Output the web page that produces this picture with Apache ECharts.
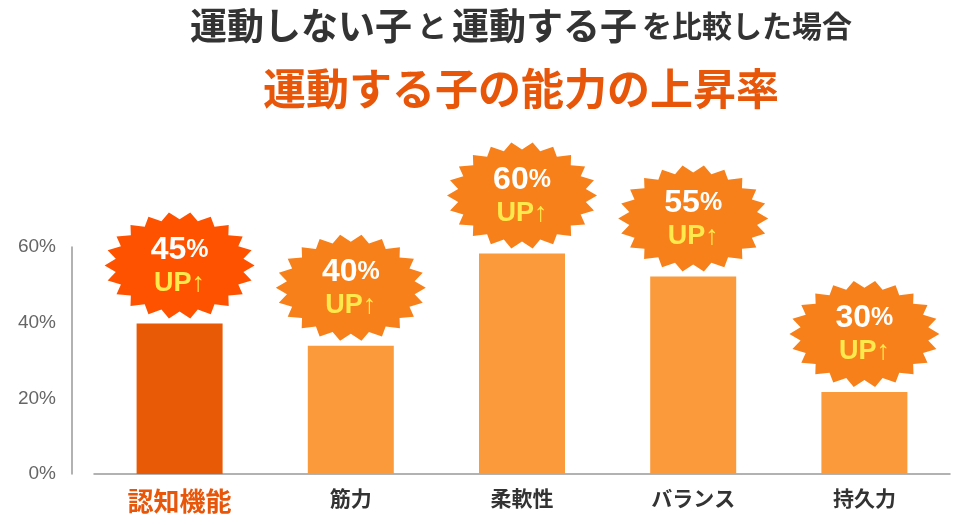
<!DOCTYPE html><html><head><meta charset="utf-8">
<script src="https://cdn.jsdelivr.net/npm/echarts@6/dist/echarts.min.js"></script>
<style>html,body{margin:0;background:#fff}#c{width:960px;height:525px}</style></head><body><div id="c"></div>
<script>
const categories=['認知機能','筋力','柔軟性','バランス','持久力'];
const barValues=[39.8,33.9,58.3,52.2,21.7];
const upLabels=['45','40','60','55','30'];
const yTicks=[0,20,40,60];
function star(n){let p=[];for(let i=0;i<n*2;i++){const a=i*Math.PI/n;const r=i%2?0.86:1;p.push((i?'L':'M')+(50+50*r*Math.cos(a)).toFixed(2)+' '+(50+50*r*Math.sin(a)).toFixed(2));}return 'path://'+p.join(' ')+'Z';}
const chart=echarts.init(document.getElementById('c'));
const FF='"Noto Sans CJK JP","Noto Sans",sans-serif';
chart.setOption({
 animation:false,
 title:[{text:'{a|運動しない子} {b|と} {a|運動する子} {b|を比較した場合}',left:516,textAlign:'center',top:2,
   textStyle:{rich:{a:{fontSize:37,fontWeight:'bold',color:'#333',fontFamily:FF},b:{fontSize:30,fontWeight:'bold',color:'#333',fontFamily:FF}}}},
  {text:'運動する子の能力の上昇率',left:516,textAlign:'center',top:62,textStyle:{fontSize:43,fontWeight:'bold',color:'#e8560a',fontFamily:FF}}],
 grid:{left:94,right:10,top:247,bottom:51},
 xAxis:{type:'category',data:categories,axisTick:{show:false},axisLine:{lineStyle:{color:'#999',width:1.5}},
  axisLabel:{margin:14,fontFamily:FF,fontWeight:'bold',fontSize:21,color:'#333',
   formatter:(v,i)=>i===0?'{r|'+v+'}':v,rich:{r:{fontSize:26,fontWeight:'bold',color:'#e8560a',fontFamily:FF}}}},
 yAxis:{type:'value',min:0,max:60,interval:20,offset:22,splitLine:{show:false},axisLine:{show:true,lineStyle:{color:'#999',width:1.5}},
  axisLabel:{formatter:'{value}%',fontSize:19,color:'#666',fontFamily:'Liberation Sans',margin:16}},
 series:[{type:'bar',barWidth:86,data:barValues.map((v,i)=>({value:v,itemStyle:{color:i===0?'#e85a06':'#fb9a3a'}}))},
  {type:'scatter',symbol:star(22),symbolSize:[150,106],symbolOffset:[0,-58],z:5,
   data:barValues.map((v,i)=>({value:v,itemStyle:{color:i===0?'#ff5200':'#f7801a',opacity:1},
    label:{show:true,position:'inside',formatter:'{n|'+upLabels[i]+'}{p|%}\n{u|UP↑}',
     rich:{n:{fontSize:32,fontWeight:'bold',color:'#fff',fontFamily:'Liberation Sans'},p:{fontSize:25,fontWeight:'bold',color:'#fff',fontFamily:'Liberation Sans'},
      u:{fontSize:27,fontWeight:'bold',color:'#ffe94d',fontFamily:'Liberation Sans',padding:[4,0,0,0]}}}}))}]
});
</script></body></html>
